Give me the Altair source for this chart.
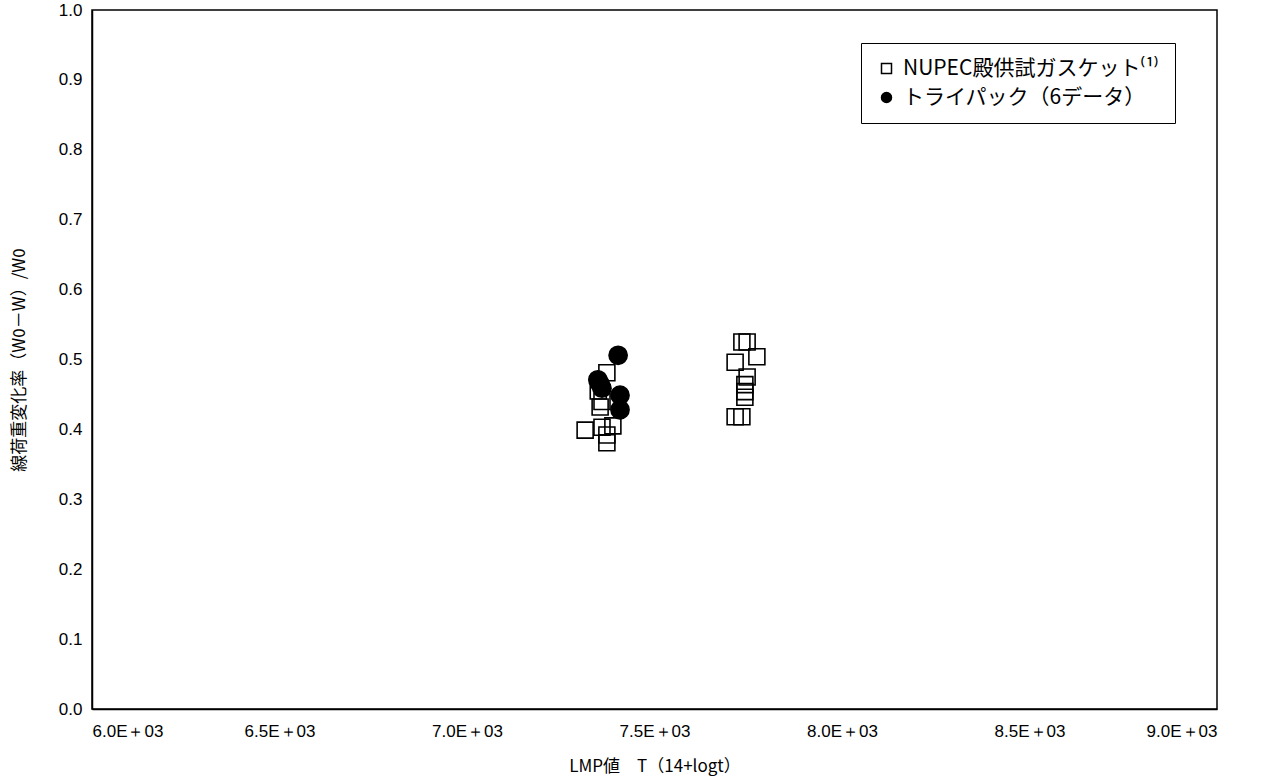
import altair as alt
import pandas as pd

# NUPEC gasket data (open squares)
sq_x = [7373, 7360, 7355, 7315, 7360, 7389, 7373, 7373, 7350,
        7733, 7747, 7773, 7715, 7747, 7741, 7741, 7741, 7715, 7733]
sq_y = [0.481, 0.440, 0.432, 0.399, 0.403, 0.405, 0.392, 0.381, 0.455,
        0.525, 0.525, 0.504, 0.496, 0.475, 0.464, 0.454, 0.446, 0.418, 0.418]

# Tri-pack data (filled circles, 6 points)
ci_x = [7403, 7349, 7360, 7408, 7408, 7355]
ci_y = [0.506, 0.471, 0.459, 0.449, 0.428, 0.465]

s1 = "NUPEC殿供試ガスケット⁽¹⁾"
s2 = "トライパック（6データ）"

df_sq = pd.DataFrame({"x": sq_x, "y": sq_y, "series": [s1] * len(sq_x)})
df_ci = pd.DataFrame({"x": ci_x, "y": ci_y, "series": [s2] * len(ci_x)})

x_ticks = [6000, 6500, 7000, 7500, 8000, 8500, 9000]
y_ticks = [0.0, 0.1, 0.2, 0.3, 0.4, 0.5, 0.6, 0.7, 0.8, 0.9, 1.0]

dom = [s1, s2]

leg = alt.Legend(title=None, orient="none", legendX=769, legendY=33)

enc = dict(
    x=alt.X("x:Q",
            scale=alt.Scale(domain=[6000, 9000], nice=False, zero=False),
            axis=alt.Axis(values=x_ticks, title="LMP値　T（14+logt）",
                          labelExpr="format(datum.value/1000, '.1f') + 'E＋03'",
                          ticks=False, grid=False, labelPadding=14,
                          titlePadding=19)),
    y=alt.Y("y:Q",
            scale=alt.Scale(domain=[0, 1], nice=False),
            axis=alt.Axis(values=y_ticks, format=".1f",
                          title="線荷重変化率（W0－W）/W0",
                          ticks=False, grid=False, labelPadding=10,
                          titlePadding=30)),
    shape=alt.Shape("series:N", scale=alt.Scale(domain=dom, range=["square", "circle"]),
                    legend=leg),
    fill=alt.Fill("series:N", scale=alt.Scale(domain=dom, range=["transparent", "black"]),
                  legend=leg),
    stroke=alt.Stroke("series:N", scale=alt.Scale(domain=dom, range=["black", "black"]),
                      legend=leg),
)

squares = alt.Chart(df_sq).mark_point(strokeWidth=1.6, opacity=1, size=256).encode(**enc)
circles = alt.Chart(df_ci).mark_point(strokeWidth=1.6, opacity=1, size=330).encode(**enc)

chart = alt.layer(squares, circles).properties(
    width=1125, height=699,
    autosize=alt.AutoSizeParams(type="none"),
    padding={"left": 92, "top": 10, "right": 52, "bottom": 73},
    background="white",
).configure_view(
    stroke="black", strokeWidth=1.5
).configure_axis(
    labelFont="Liberation Sans", labelFontSize=17, labelColor="black",
    titleFont="Noto Sans CJK JP", titleFontSize=17, titleColor="black",
    titleFontWeight="normal", domainColor="black", domainWidth=1.5
).configure_legend(
    strokeColor="black", fillColor="white", padding=15, rowPadding=7,
    labelFontSize=21, labelFont="Noto Sans CJK JP", labelColor="black",
    symbolSize=100, symbolStrokeWidth=1.5, labelLimit=400, labelOffset=6
)

chart.save("out.html", embed_options={"renderer": "svg", "actions": False})
